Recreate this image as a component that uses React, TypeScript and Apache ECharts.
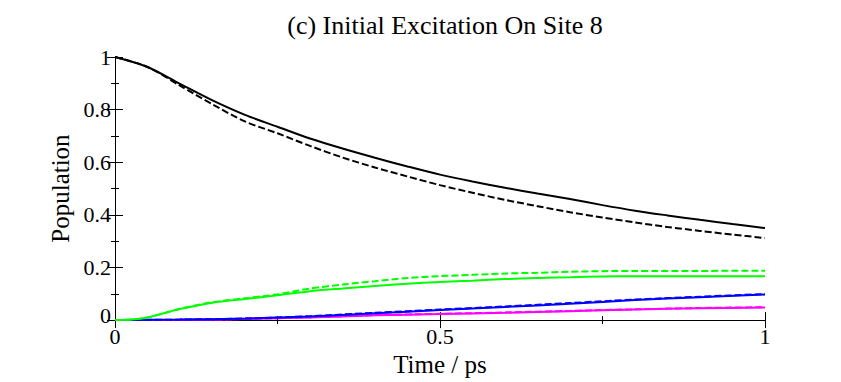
import React, { useEffect, useRef } from "react";
import * as echarts from "echarts";

const title = "(c) Initial Excitation On Site 8";
const xName = "Time / ps";
const yName = "Population";

const tBlack = [0, 0.05, 0.1, 0.15, 0.2, 0.25, 0.3, 0.35, 0.4, 0.45, 0.5, 0.55, 0.6, 0.65, 0.7, 0.75, 0.8, 0.85, 0.9, 0.95, 1.0];
const blackSolid = [1.0, 0.962, 0.898, 0.835, 0.78, 0.735, 0.69, 0.652, 0.617, 0.584, 0.553, 0.527, 0.503, 0.481, 0.46, 0.437, 0.416, 0.398, 0.381, 0.365, 0.35];
const blackDashed = [1.0, 0.962, 0.891, 0.82, 0.755, 0.71, 0.662, 0.618, 0.58, 0.546, 0.513, 0.484, 0.457, 0.433, 0.41, 0.39, 0.371, 0.354, 0.339, 0.325, 0.312];

const tGreen = [0, 0.025, 0.05, 0.075, 0.1, 0.15, 0.2, 0.25, 0.3, 0.35, 0.4, 0.45, 0.5, 0.55, 0.6, 0.65, 0.7, 0.75, 0.8, 0.9, 1.0];
const greenSolid = [0, 0.002, 0.01, 0.026, 0.042, 0.066, 0.08, 0.094, 0.11, 0.12, 0.13, 0.138, 0.145, 0.15, 0.156, 0.16, 0.163, 0.166, 0.167, 0.167, 0.167];
const greenDashed = [0, 0.002, 0.01, 0.026, 0.043, 0.068, 0.083, 0.098, 0.12, 0.135, 0.148, 0.16, 0.167, 0.172, 0.177, 0.18, 0.184, 0.186, 0.187, 0.187, 0.188];

const tSmall = [0, 0.1, 0.2, 0.3, 0.4, 0.5, 0.6, 0.7, 0.8, 0.9, 1.0];
const blueSolid = [0, 0.002, 0.006, 0.014, 0.026, 0.038, 0.05, 0.062, 0.076, 0.087, 0.097];
const blueDashed = [0, 0.002, 0.006, 0.015, 0.028, 0.04, 0.052, 0.065, 0.078, 0.089, 0.099];
const magentaSolid = [0, 0.001, 0.004, 0.01, 0.018, 0.023, 0.028, 0.034, 0.04, 0.045, 0.048];
const magentaDashed = [0, 0.001, 0.004, 0.011, 0.019, 0.024, 0.029, 0.035, 0.041, 0.046, 0.049];

const zip = (xs: number[], ys: number[]) => xs.map((x, i) => [x, ys[i]]);

const FONT = "Liberation Serif";

export default function App() {
  const ref = useRef<HTMLDivElement>(null);
  useEffect(() => {
    if (!ref.current) return;
    const chart = echarts.init(ref.current, null, { renderer: "svg" });
    const line = (data: number[][], color: string, dashed: boolean, z: number) => ({
      type: "line",
      data,
      showSymbol: false,
      symbol: "none",
      smooth: 0.3,
      z,
      lineStyle: { color, width: 2, type: dashed ? [7, 3] : "solid" },
    });
    const axisCommon = {
      axisLine: { show: true, lineStyle: { color: "#000", width: 1 } },
      splitLine: { show: false },
    };
    const ticks = {
      axisTick: { inside: true, length: 8, lineStyle: { color: "#000" } },
      minorTick: { show: true, splitNumber: 2, length: 4, lineStyle: { color: "#000" } },
    };
    chart.setOption({
      animation: false,
      backgroundColor: "#fff",
      title: {
        text: title,
        left: 440,
        textAlign: "center",
        top: 7,
        textStyle: { fontFamily: FONT, fontSize: 26, fontWeight: "normal", color: "#000" },
      },
      grid: { left: 115, right: 76, top: 57, bottom: 57 },
      xAxis: [
        {
          ...axisCommon,
          ...ticks,
          type: "value",
          min: 0,
          max: 1,
          interval: 0.5,
          position: "bottom",
          name: xName,
          nameLocation: "middle",
          nameGap: 20,
          nameTextStyle: { fontFamily: FONT, fontSize: 25, color: "#000" },
          axisLabel: { fontFamily: FONT, fontSize: 22, color: "#000", margin: 5 },
        },
        {
          ...axisCommon,
          ...ticks,
          type: "value",
          min: 0,
          max: 1,
          interval: 0.5,
          position: "top",
          axisLabel: { show: false },
        },
      ],
      yAxis: [
        {
          ...axisCommon,
          ...ticks,
          type: "value",
          min: 0,
          max: 1,
          interval: 0.2,
          position: "left",
          name: yName,
          nameLocation: "middle",
          nameGap: 35,
          nameTextStyle: { fontFamily: FONT, fontSize: 25, color: "#000" },
          axisLabel: {
            fontFamily: FONT,
            fontSize: 22,
            color: "#000",
            margin: 4,
            formatter: (v: number) => (v === 0 ? "{z|0}" : String(v)),
            rich: { z: { fontFamily: FONT, fontSize: 22, color: "#000", padding: [0, 0, 10, 0] } },
          },
        },
        {
          ...axisCommon,
          ...ticks,
          type: "value",
          min: 0,
          max: 1,
          interval: 0.2,
          position: "right",
          axisLabel: { show: false },
        },
      ],
      series: [
        line(zip(tSmall, magentaDashed), "#ff00ff", true, 2),
        line(zip(tSmall, magentaSolid), "#ff00ff", false, 2),
        line(zip(tSmall, blueDashed), "#0000ff", true, 3),
        line(zip(tSmall, blueSolid), "#0000ff", false, 3),
        line(zip(tGreen, greenDashed), "#00ff00", true, 4),
        line(zip(tGreen, greenSolid), "#00ff00", false, 4),
        line(zip(tBlack, blackDashed), "#000000", true, 5),
        line(zip(tBlack, blackSolid), "#000000", false, 5),
      ],
    });
    return () => chart.dispose();
  }, []);
  return <div ref={ref} style={{ width: 841, height: 382, position: "absolute", left: 0, top: 0 }} />;
}
